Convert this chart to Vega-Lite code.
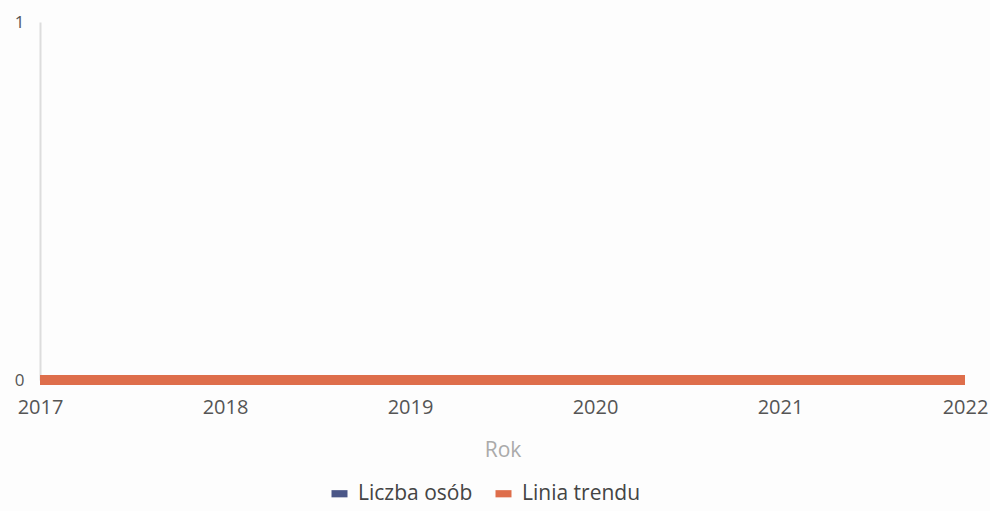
{
  "$schema": "https://vega.github.io/schema/vega-lite/v6.json",
  "autosize": "none",
  "width": 925,
  "height": 358,
  "padding": {"left": 40, "top": 22, "right": 25, "bottom": 131},
  "background": "#fdfdfd",
  "config": {
    "font": "Open Sans",
    "view": {"stroke": null}
  },
  "data": {
    "values": [
      {"rok": 2017, "seria": "Liczba osób", "wartosc": 0},
      {"rok": 2018, "seria": "Liczba osób", "wartosc": 0},
      {"rok": 2019, "seria": "Liczba osób", "wartosc": 0},
      {"rok": 2020, "seria": "Liczba osób", "wartosc": 0},
      {"rok": 2021, "seria": "Liczba osób", "wartosc": 0},
      {"rok": 2022, "seria": "Liczba osób", "wartosc": 0},
      {"rok": 2017, "seria": "Linia trendu", "wartosc": 0},
      {"rok": 2018, "seria": "Linia trendu", "wartosc": 0},
      {"rok": 2019, "seria": "Linia trendu", "wartosc": 0},
      {"rok": 2020, "seria": "Linia trendu", "wartosc": 0},
      {"rok": 2021, "seria": "Linia trendu", "wartosc": 0},
      {"rok": 2022, "seria": "Linia trendu", "wartosc": 0}
    ]
  },
  "mark": {"type": "line", "strokeWidth": 10, "strokeCap": "butt"},
  "encoding": {
    "x": {
      "field": "rok",
      "type": "quantitative",
      "scale": {"domain": [2017, 2022], "nice": false, "zero": false},
      "axis": {
        "title": "Rok",
        "format": "d",
        "values": [2017, 2018, 2019, 2020, 2021, 2022],
        "grid": false,
        "domain": false,
        "ticks": false,
        "labelFlush": false,
        "labelOverlap": false,
        "labelFontSize": 20,
        "labelColor": "#555555",
        "labelPadding": 17,
        "titleFontSize": 21,
        "titleFontWeight": "normal",
        "titleColor": "#aaaaaa",
        "titlePadding": 22
      }
    },
    "y": {
      "field": "wartosc",
      "type": "quantitative",
      "scale": {"domain": [0, 1], "nice": false},
      "axis": {
        "title": null,
        "format": "d",
        "values": [0, 1],
        "grid": false,
        "ticks": false,
        "domainColor": "#dddddd",
        "domainWidth": 2,
        "labelFontSize": 17,
        "labelColor": "#555555",
        "labelPadding": 16
      }
    },
    "color": {
      "field": "seria",
      "type": "nominal",
      "scale": {"domain": ["Liczba osób", "Linia trendu"], "range": ["#4a5687", "#de6e4b"]},
      "legend": {
        "title": null,
        "orient": "none",
        "legendX": 289,
        "legendY": 461,
        "direction": "horizontal",
        "symbolType": "M-1,-0.45H1V0.45H-1Z",
        "symbolSize": 256,
        "symbolStrokeWidth": 0,
        "labelFontSize": 21,
        "labelColor": "#444444",
        "labelOffset": 8,
        "columnPadding": 20,
        "encode": {
          "symbols": {
            "update": {
              "fill": {"scale": "color", "field": "value"},
              "fillOpacity": {"value": 1}
            }
          }
        }
      }
    },
    "order": {"field": "seria"}
  }
}
